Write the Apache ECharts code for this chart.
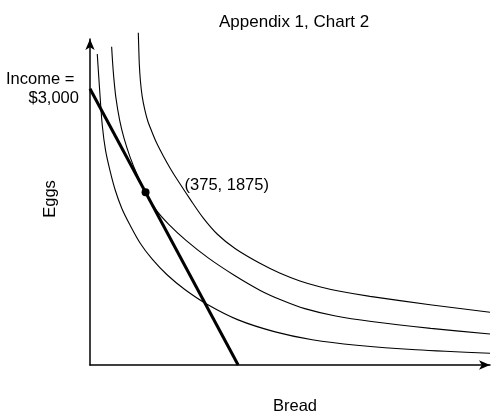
<!DOCTYPE html>
<html>
<head>
<meta charset="utf-8">
<script src="https://cdn.jsdelivr.net/npm/echarts@6/dist/echarts.min.js"></script>
<style>
    html, body { margin: 0; padding: 0; background: #fff; }
    #chart { width: 491px; height: 415px; }
</style>
</head>
<body>
<div id="chart"></div>
<script>
// budget line: income 3000, bread costs 3, eggs cost 1
let budgetLine = [[0, 3000], [1000, 0]];
let optimum = [375, 1875];

// indifference curves (bread, eggs)
let curveLow = [[49, 3377], [66, 2965], [83, 2600], [105, 2330], [135, 2110], [170, 1900], [215, 1700],
    [270, 1520], [340, 1320], [420, 1150], [520, 980], [640, 820], [790, 660], [1000, 490], [1250, 360],
    [1500, 275], [1800, 215], [2200, 165], [2700, 127]];
let curveMid = [[146, 3456], [152, 3300], [160, 3130], [175, 2900], [200, 2660], [230, 2460], [270, 2260],
    [320, 2060], [375, 1875], [450, 1676], [530, 1530], [650, 1350], [800, 1160], [968, 980], [1149, 810],
    [1300, 700], [1450, 612], [1650, 535], [1900, 472], [2300, 398], [2700, 337]];
let curveHigh = [[326, 3608], [329, 3450], [333, 3260], [340, 3090], [352, 2920], [370, 2770], [390, 2650],
    [416, 2540], [450, 2410], [493, 2275], [540, 2140], [594, 2000], [680, 1790], [765, 1595], [860, 1420],
    [979, 1265], [1147, 1104], [1280, 999], [1417, 913], [1550, 850], [1687, 800], [1890, 745], [2295, 655],
    [2700, 572]];

let xMax = 2700;
let yMax = 3540;
let font = 'Liberation Sans, Arial, Helvetica, sans-serif';

let chart = echarts.init(document.getElementById('chart'));

function makeAxis(name, max, opt) {
    return echarts.util.merge({
        type: 'value',
        min: 0,
        max: max,
        name: name,
        nameLocation: 'middle',
        nameTextStyle: {color: '#000', fontSize: 16.5, fontFamily: font},
        axisLine: {
            show: true,
            symbol: ['none', 'arrow'],
            symbolSize: [7, 11],
            lineStyle: {color: '#000', width: 1.5}
        },
        axisTick: {show: false},
        axisLabel: {show: false},
        splitLine: {show: false}
    }, opt || {}, true);
}

function makeCurve(data, opt) {
    return echarts.util.merge({
        type: 'line',
        data: data,
        smooth: 0.3,
        symbol: 'none',
        clip: false,
        lineStyle: {color: '#000', width: 1.1}
    }, opt || {}, true);
}

let pointLabel = {
    show: true,
    color: '#000',
    fontSize: 16.5,
    fontFamily: font
};

let option = {
    animation: false,
    title: {
        text: 'Appendix 1, Chart 2',
        left: 214,
        top: 9,
        textStyle: {color: '#000', fontSize: 17, fontWeight: 'normal', fontFamily: font}
    },
    grid: {left: 90, right: 1, top: 39, bottom: 50, outerBoundsMode: 'none'},
    xAxis: makeAxis('Bread', xMax, {nameGap: 33, nameTextStyle: {padding: [0, 0, 0, 10]}}),
    yAxis: makeAxis('Eggs', yMax, {nameGap: 31, nameRotate: 90, nameTextStyle: {padding: [0, 0, 0, 6]}}),
    series: [
        makeCurve(curveLow),
        makeCurve(curveMid),
        makeCurve(curveHigh),
        {
            type: 'line',
            symbol: 'circle',
            symbolSize: 0.1,
            showSymbol: true,
            lineStyle: {color: '#000', width: 3},
            itemStyle: {color: '#000'},
            data: budgetLine.map(function (p, i) {
                if (i > 0) return p;
                return {
                    value: p,
                    label: echarts.util.merge({
                        position: 'left',
                        distance: 11,
                        align: 'right',
                        lineHeight: 19,
                        formatter: 'Income = \n$3,000'
                    }, pointLabel, true)
                };
            })
        },
        {
            // tangency point
            type: 'line',
            symbol: 'circle',
            symbolSize: 8,
            showSymbol: true,
            lineStyle: {width: 0},
            itemStyle: {color: '#000', borderWidth: 0},
            data: [optimum],
            label: echarts.util.merge({
                position: 'right',
                distance: 35,
                offset: [0, -7],
                formatter: function (p) {
                    return '(' + p.value[0] + ', ' + p.value[1] + ')';
                }
            }, pointLabel, true)
        }
    ]
};

chart.setOption(option);
</script>
</body>
</html>
